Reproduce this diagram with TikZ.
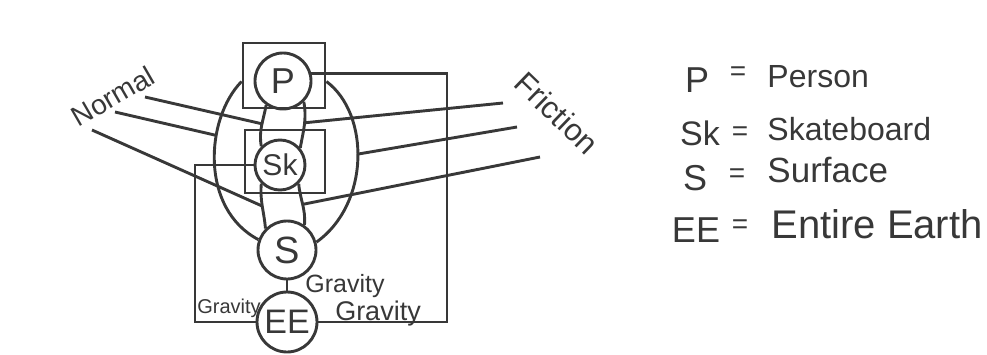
\documentclass[tikz,border=0pt]{standalone}
\usepackage{fontspec}
\setmainfont{Liberation Sans}
\usetikzlibrary{calc}

\begin{document}
\begin{tikzpicture}[x=1pt, y=1pt, line width=2.9pt, draw=black!78, text=black!78,
  body/.style={circle, draw, inner sep=0pt, minimum size=#1},
  sysbox/.style={draw, inner sep=0pt},
  lbl/.style={font=\fontsize{#1}{#1}\selectfont},
  key/.style={anchor=base, inner sep=0pt, font=\fontsize{#1}{#1}\selectfont},
  eqsign/.style={inner sep=0pt, font=\fontsize{28}{28}\selectfont}]
  \useasboundingbox (0,0) rectangle (987,354);
  % systems
  \node[sysbox, minimum width=82, minimum height=65] (Pbox) at (284,278.5) {};
  \node[sysbox, minimum width=80, minimum height=63] (Skbox) at (285,192.5) {};
  % bodies
  \node[body=56, lbl=36] (P) at (283,273) {P};
  \node[body=50, lbl=30] (Sk) at (280,189) {Sk};
  \node[body=58, lbl=38] (S) at (287,104) {S};
  \node[body=60, lbl=34] (EE) at (287,32) {EE};
  % contacts P-Sk and Sk-S
  \draw (P.235) to[out=-100, in=100] coordinate[pos=0.45] (nl1) (Sk.135);
  \draw (P.-45) to[out=-80, in=80] coordinate[pos=0.45] (fl1) (Sk.40);
  \draw (Sk.225) to[out=-95, in=95] coordinate[pos=0.5] (nl2) (S.135);
  \draw (Sk.-45) to[out=-85, in=85] coordinate[pos=0.5] (fl2) (S.55);
  % contact P-S
  \draw ([yshift=-6]Pbox.west) .. controls (205,235) and (200,145) .. (S.160) coordinate[pos=0.35] (nbig);
  \draw ([yshift=-6]Pbox.east) .. controls (370,240) and (370,150) .. (S.15) coordinate[pos=0.47] (fbig);
  % gravity
  \coordinate (gl) at (195,0); \coordinate (gr) at (447,0);
  \draw (P.15) -| (gr |- EE.east) -- (EE.east);
  \draw (Sk.west) -| (gl |- EE.west) -- (EE.west);
  \draw (S) -- (EE);
  \node[key=20] (g1) at (229,41) {Gravity};
  \node[key=25] (g2) at (345,62) {Gravity};
  \node[key=27] (g3) at (378,34) {Gravity};
  % normal
  \node[lbl=28, rotate=30] (normal) at (113,258) {Normal};
  \coordinate (n1) at (145,257); \coordinate (n2) at (115,242); \coordinate (n3) at (92,224);
  \draw (n1) -- (nl1); \draw (n2) -- (nbig); \draw (n3) -- (nl2);
  % friction
  \node[lbl=31, rotate=-44] (friction) at (557,241) {Friction};
  \coordinate (f1) at (503,251); \coordinate (f2) at (517,227); \coordinate (f3) at (540,197);
  \draw (f1) -- (fl1); \draw (f2) -- (fbig); \draw (f3) -- (fl2);
  % key
  \node[key=36] (kP) at (697,261) {P};
  \node[eqsign] (eq1) at (738,280) {=};
  \node[key=32, anchor=base west] (tP) at (766,266) {Person};
  \node[key=34] (kSk) at (700,209) {Sk};
  \node[eqsign] (eq2) at (740,220) {=};
  \node[key=32, anchor=base west] (tSk) at (766,214) {Skateboard};
  \node[key=36] (kS) at (695,164) {S};
  \node[eqsign] (eq3) at (737,178) {=};
  \node[key=35, anchor=base west] (tS) at (766,172) {Surface};
  \node[key=36] (kEE) at (696,112) {EE};
  \node[eqsign] (eq4) at (740,127) {=};
  \node[key=40, anchor=base west] (tEE) at (770,116) {Entire Earth};
\end{tikzpicture}
\end{document}
